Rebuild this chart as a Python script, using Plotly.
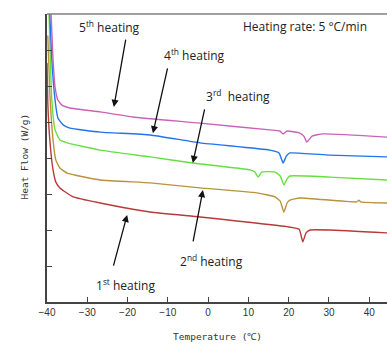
import plotly.graph_objects as go

# ---- data (temperature in °C, heat flow in axis units) ----
t1 = [-40.0, -39.8, -39.3, -38.5, -37.8, -36.8, -33.5, -26.8, -14.4, -2.0, 20.3, 22.6, 23.5, 24.3, 25.3, 30.2, 44.4]
h1 = [6.64, 5.53, 4.50, 3.67, 3.33, 3.17, 2.92, 2.75, 2.50, 2.36, 2.08, 2.02, 1.67, 1.92, 2.00, 2.00, 1.92]

t2 = [-39.8, -39.3, -38.5, -37.8, -36.8, -35.0, -26.8, -14.4, -2.0, 12.1, 16.6, 17.9, 18.8, 19.6, 20.3, 22.8, 36.9, 37.4, 37.9, 44.4]
h2 = [7.40, 5.81, 4.50, 3.94, 3.72, 3.58, 3.39, 3.31, 3.17, 3.03, 2.92, 2.80, 2.50, 2.75, 2.83, 2.89, 2.78, 2.83, 2.78, 2.75]

t3 = [-39.5, -38.8, -38.0, -36.8, -35.0, -26.8, -14.4, -3.8, 10.4, 11.6, 12.4, 13.3, 16.6, 17.9, 18.8, 19.6, 20.3, 30.2, 44.4]
h3 = [8.00, 5.61, 4.78, 4.50, 4.42, 4.22, 4.03, 3.86, 3.67, 3.61, 3.47, 3.61, 3.61, 3.50, 3.25, 3.42, 3.50, 3.47, 3.39]

t4 = [-39.3, -38.8, -38.0, -37.3, -36.0, -34.3, -26.8, -14.4, -2.0, 15.3, 17.6, 18.6, 19.4, 20.3, 30.2, 44.4]
h4 = [8.00, 6.72, 5.61, 5.11, 4.92, 4.83, 4.72, 4.64, 4.42, 4.22, 4.14, 3.86, 4.05, 4.14, 4.08, 4.03]

t5 = [-39.0, -38.5, -38.0, -37.3, -36.3, -34.3, -26.8, -18.7, -2.0, 15.3, 17.8, 18.6, 19.6, 22.8, 23.8, 24.5, 25.8, 28.5, 44.4]
h5 = [8.00, 6.72, 5.97, 5.61, 5.47, 5.39, 5.28, 5.14, 4.97, 4.78, 4.75, 4.67, 4.75, 4.69, 4.60, 4.44, 4.61, 4.67, 4.58]

series = [
    (t1, h1, "#B83A3A"),
    (t2, h2, "#B8923C"),
    (t3, h3, "#66E040"),
    (t4, h4, "#2273EE"),
    (t5, h5, "#C963B8"),
]

x_ticks = [-40, -30, -20, -10, 0, 10, 20, 30, 40]
y_ticks = [0, 1, 2, 3, 4, 5, 6, 7, 8]

labels = ["1<sup>st</sup> heating", "2<sup>nd</sup> heating", "3<sup>rd</sup>  heating",
          "4<sup>th</sup> heating", "5<sup>th</sup> heating"]
label_pos = [(-20.4, 0.47), (0.9, 1.14), (7.4, 5.72), (-3.3, 6.86), (-24.4, 7.64)]
arrow_tip = [(-20.1, 2.42), (-1.3, 3.11), (-3.8, 3.86), (-13.7, 4.69), (-23.4, 5.42)]
arrow_tail = [(-23.6, 0.97), (-3.8, 1.64), (-0.8, 5.39), (-10.0, 6.53), (-20.4, 7.33)]

fig = go.Figure()
for t, h, c in series:
    fig.add_trace(go.Scatter(x=t, y=h, mode="lines", line=dict(color=c, width=1.4, shape="spline", smoothing=0.4),
                             showlegend=False, hoverinfo="skip"))

lab_font = dict(family="Open Sans, Noto Sans, sans-serif", size=12, color="#222")
ann = []
for txt, (lx, ly) in zip(labels, label_pos):
    ann.append(dict(x=lx, y=ly, xref="x", yref="y", text=txt, showarrow=False, font=lab_font))
for (hx, hy), (sx, sy) in zip(arrow_tip, arrow_tail):
    ann.append(dict(x=hx, y=hy, xref="x", yref="y", ax=sx, ay=sy, axref="x", ayref="y",
                    text="", showarrow=True, arrowhead=2, arrowsize=1.1, arrowwidth=1.3,
                    arrowcolor="#111"))
ann.append(dict(x=24.0, y=7.64, xref="x", yref="y", text="Heating rate: 5 °C/min",
                showarrow=False, font=lab_font))
title_font = dict(family="DejaVu Sans Mono, monospace", size=9.5, color="#333")
ann.append(dict(x=(217 - 47) / 340, y=(302 - 344) / 288, xref="paper", yref="paper",
                text="Temperature (℃)", showarrow=False, font=title_font))
ann.append(dict(x=(16 - 47) / 340, y=(302 - 157) / 288, xref="paper", yref="paper",
                text="Heat Flow (W/g)", showarrow=False, textangle=-90, font=title_font))

fig.update_layout(
    width=387, height=351,
    margin=dict(l=47, r=0, t=14, b=49),
    paper_bgcolor="white", plot_bgcolor="white",
    annotations=ann,
    shapes=[dict(type="line", xref="paper", yref="paper", x0=0, x1=1, y0=1, y1=1,
                 line=dict(color="#808080", width=1.5))],
    xaxis=dict(range=[-40, 44.4], tickvals=x_ticks, ticks="inside", ticklen=5,
               tickcolor="#444", showline=True, linecolor="#444", linewidth=1.5,
               showgrid=False, zeroline=False,
               tickfont=dict(family="Liberation Sans, Arial, sans-serif", size=10, color="#333")),
    yaxis=dict(range=[0, 8], tickvals=y_ticks, ticks="inside", ticklen=5,
               tickcolor="#444", showline=True, linecolor="#444", linewidth=1.5,
               showticklabels=False, showgrid=False, zeroline=False),
)

fig.write_html("out.html")
